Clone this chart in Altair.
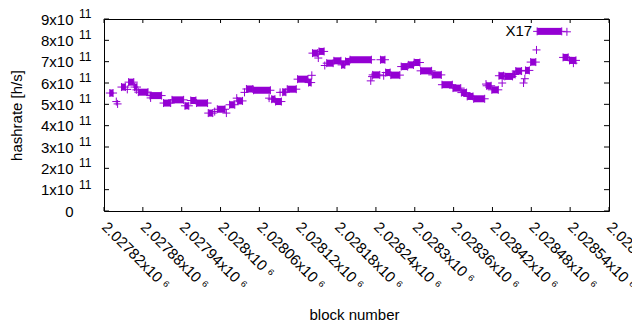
import altair as alt
import pandas as pd

# ---- data (block number, hashrate in h/s) ----
run_start = [2027829, 2027847, 2027858, 2027867, 2027873, 2027891, 2027912, 2027925, 2027945, 2027954,
             2027963, 2027981, 2027995, 2028014, 2028026, 2028040, 2028051, 2028079, 2028085, 2028096,
             2028103, 2028119, 2028136, 2028142, 2028152, 2028164, 2028175, 2028187, 2028193, 2028200,
             2028235, 2028247, 2028255, 2028263, 2028279, 2028290, 2028299, 2028309, 2028327, 2028342,
             2028359, 2028372, 2028381, 2028391, 2028411, 2028419, 2028430, 2028439, 2028452, 2028456,
             2028471, 2028479, 2028489, 2028529, 2028539]
run_end = [2027834, 2027853, 2027866, 2027871, 2027888, 2027909, 2027923, 2027943, 2027951, 2027962,
           2027980, 2027988, 2028007, 2028022, 2028034, 2028050, 2028077, 2028084, 2028094, 2028101,
           2028117, 2028135, 2028140, 2028150, 2028160, 2028174, 2028186, 2028192, 2028199, 2028233,
           2028246, 2028254, 2028262, 2028277, 2028289, 2028298, 2028308, 2028326, 2028341, 2028358,
           2028371, 2028380, 2028390, 2028408, 2028418, 2028429, 2028437, 2028451, 2028455, 2028465,
           2028477, 2028487, 2028527, 2028537, 2028549]
run_value = [5.53e11, 5.81e11, 6.04e11, 5.81e11, 5.57e11, 5.41e11, 5.06e11, 5.21e11, 4.93e11, 5.18e11,
             5.06e11, 4.59e11, 4.77e11, 4.98e11, 5.16e11, 5.72e11, 5.66e11, 5.24e11, 5.13e11, 5.57e11,
             5.71e11, 6.18e11, 6.02e11, 7.40e11, 7.48e11, 6.93e11, 7.04e11, 6.85e11, 7.01e11, 7.09e11,
             6.38e11, 7.09e11, 6.49e11, 6.37e11, 6.77e11, 6.85e11, 6.96e11, 6.57e11, 6.38e11, 5.92e11,
             5.76e11, 5.55e11, 5.37e11, 5.26e11, 5.87e11, 5.68e11, 6.34e11, 6.31e11, 6.40e11, 6.56e11,
             6.59e11, 6.98e11, 8.42e11, 7.20e11, 7.06e11]

single_block = [2027839, 2027841, 2027856, 2027870, 2027892, 2027991, 2028009, 2028025, 2028037, 2028075,
                2028092, 2028141, 2028151, 2028161, 2028232, 2028234, 2028252, 2028410, 2028435, 2028468,
                2028470, 2028488, 2028535, 2028545]
single_value = [5.13e11, 5.02e11, 5.70e11, 5.68e11, 5.30e11, 4.66e11, 4.59e11, 5.29e11, 5.56e11, 5.29e11,
                5.56e11, 6.36e11, 7.17e11, 6.82e11, 6.10e11, 6.30e11, 6.34e11, 5.95e11, 6.00e11, 6.00e11,
                6.20e11, 7.55e11, 8.40e11, 6.93e11]

label_text = ["X17"]
label_block = [2028489]
label_value = [8.42e11]

x_tick_values = [2027820, 2027880, 2027940, 2028000, 2028060, 2028120, 2028180,
                 2028240, 2028300, 2028360, 2028420, 2028480, 2028540, 2028600]
x_tick_labels = ["2.02782x10 \u2076", "2.02788x10 \u2076", "2.02794x10 \u2076", "2.028x10 \u2076",
                 "2.02806x10 \u2076", "2.02812x10 \u2076", "2.02818x10 \u2076", "2.02824x10 \u2076",
                 "2.0283x10 \u2076", "2.02836x10 \u2076", "2.02842x10 \u2076", "2.02848x10 \u2076",
                 "2.02854x10 \u2076", "2.0286x10 \u2076"]
y_tick_values = [0, 1e11, 2e11, 3e11, 4e11, 5e11, 6e11, 7e11, 8e11, 9e11]
y_tick_labels = ["0", "1x10", "2x10", "3x10", "4x10", "5x10", "6x10", "7x10", "8x10", "9x10"]
y_tick_exponents = ["", "11", "11", "11", "11", "11", "11", "11", "11", "11"]
x_title = "block number"
y_title = "hashrate [h/s]"

COLOR = "#9400d3"
FONT = "Liberation Sans"
W, H = 505, 192


def label_expr(values, labels):
    expr = "''"
    for v, l in reversed(list(zip(values, labels))):
        expr = f"datum.value == {v:.0f} ? '{l}' : " + expr
    return expr


runs = pd.DataFrame({"start": run_start, "end": run_end, "hashrate": run_value})
points = pd.concat([
    pd.DataFrame({"block": run_start, "hashrate": run_value}),
    pd.DataFrame({"block": run_end, "hashrate": run_value}),
    pd.DataFrame({"block": single_block, "hashrate": single_value}),
], ignore_index=True)
labels = pd.DataFrame({"block": label_block, "hashrate": label_value, "text": label_text})
yt = pd.DataFrame({"hashrate": y_tick_values, "exp": y_tick_exponents})
xt = pd.DataFrame({"block": x_tick_values})
xtitle_df = pd.DataFrame({"t": [x_title]})

xs = alt.Scale(domain=[2027820, 2028600], nice=False, zero=False)
ys = alt.Scale(domain=[0, 9e11], nice=False)

xaxis = alt.Axis(values=x_tick_values, labelExpr=label_expr(x_tick_values, x_tick_labels),
                 labelAngle=45, labelAlign="left", labelBaseline="middle", labelPadding=13,
                 tickSize=0, domain=False, grid=False, labelOverlap=False, labelFlush=False,
                 labelBound=False, labelFont=FONT, labelFontSize=15, labelColor="black",
                 title=None)
yaxis = alt.Axis(values=y_tick_values, labelExpr=label_expr(y_tick_values, y_tick_labels),
                 labelPadding=31, tickSize=0, domain=False, grid=False, labelOverlap=False,
                 labelFlush=False, labelFont=FONT, labelFontSize=15, labelColor="black",
                 labelBaseline="middle",
                 title=y_title, titleFont=FONT, titleFontSize=15, titleFontWeight="normal",
                 titleColor="black", titleAngle=270, titleX=-88, titleY=H / 2,
                 titleAlign="center", titleBaseline="middle")


def X(field):
    return alt.X(field, scale=xs, axis=xaxis)


def Y(field):
    return alt.Y(field, scale=ys, axis=yaxis)


bars = alt.Chart(runs).mark_rule(strokeWidth=7, strokeCap="butt", color=COLOR).encode(
    x=X("start:Q"), x2="end:Q", y=Y("hashrate:Q"))
crosses = alt.Chart(points).mark_point(shape="M-1,0H1M0,-1V1", size=64, strokeWidth=1,
                                       color=COLOR, filled=False, opacity=1).encode(
    x=X("block:Q"), y=Y("hashrate:Q"))
note = alt.Chart(labels).mark_text(align="right", baseline="middle", dx=-5, font=FONT,
                                   fontSize=15, color="black").encode(
    x=X("block:Q"), y=Y("hashrate:Q"), text="text:N")
exps = alt.Chart(yt).mark_text(align="left", baseline="middle", dy=-5, font=FONT,
                               fontSize=12, color="black").encode(
    y=Y("hashrate:Q"), x=alt.value(-25), text="exp:N")
ytl = alt.Chart(yt).mark_rule(color="black", strokeWidth=1).encode(
    y=Y("hashrate:Q"), x=alt.value(0), x2=alt.value(5))
ytr = alt.Chart(yt).mark_rule(color="black", strokeWidth=1).encode(
    y=Y("hashrate:Q"), x=alt.value(W - 5), x2=alt.value(W))
xtb = alt.Chart(xt).mark_rule(color="black", strokeWidth=1).encode(
    x=X("block:Q"), y=alt.value(H), y2=alt.value(H - 4))
xtt = alt.Chart(xt).mark_rule(color="black", strokeWidth=1).encode(
    x=X("block:Q"), y=alt.value(0), y2=alt.value(4))
xtitle = alt.Chart(xtitle_df).mark_text(align="center", baseline="middle", font=FONT,
                                        fontSize=15, color="black").encode(
    x=alt.value(W / 2 - 2), y=alt.value(H + 104), text="t:N")

chart = alt.layer(bars, crosses, note, exps, ytl, ytr, xtb, xtt, xtitle).properties(
    width=W, height=H,
    autosize=alt.AutoSizeParams(type="none"),
    padding={"left": 96, "top": 11, "right": 23, "bottom": 119},
    background="white",
).configure_view(stroke="black", strokeWidth=1)

chart.save("out.html", embed_options={"renderer": "svg", "actions": False})
